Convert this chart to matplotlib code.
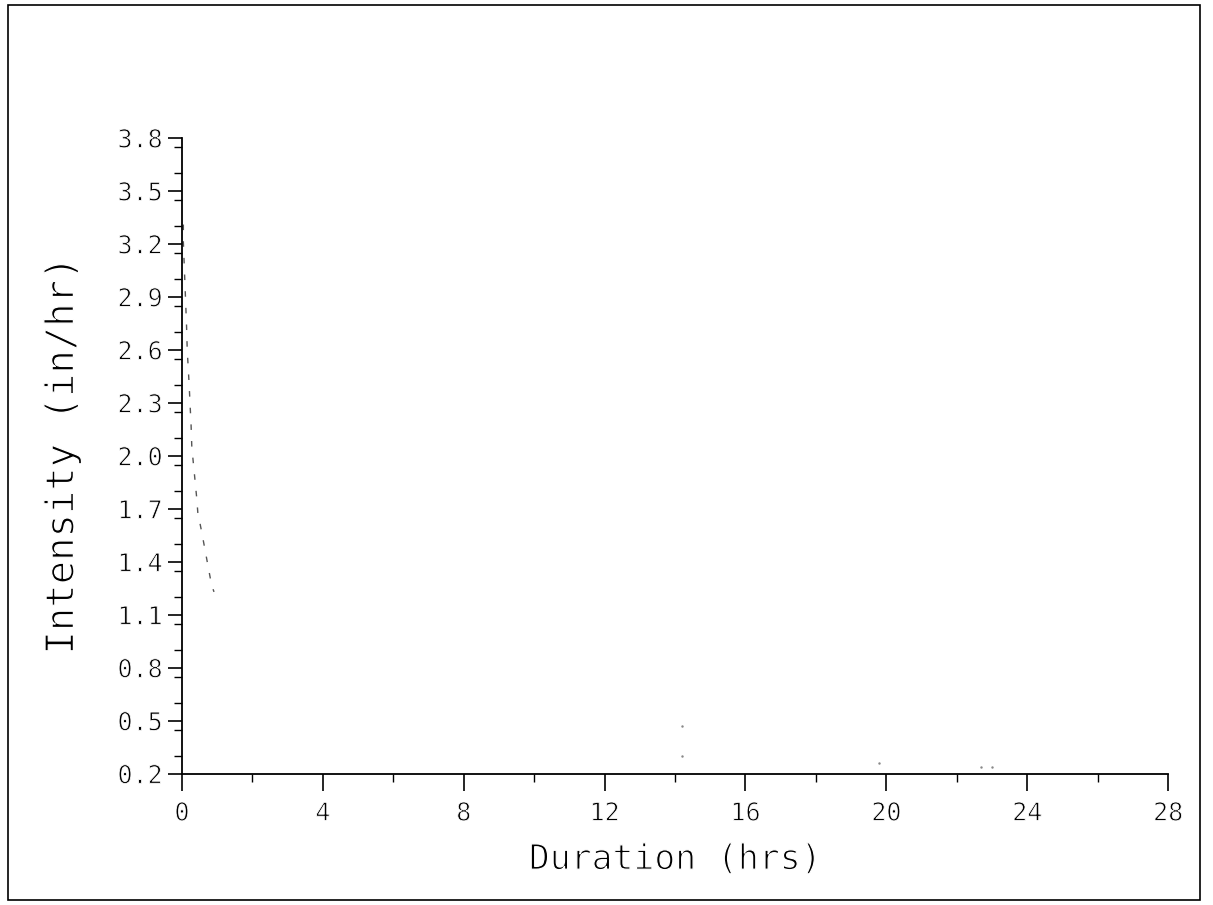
import numpy as np
import matplotlib
matplotlib.use('Agg')
import matplotlib.pyplot as plt
import matplotlib.ticker as mticker
import matplotlib.patheffects as pe
from matplotlib.patches import Rectangle

# faint intensity-duration curve
duration = [0.04, 0.04, 0.13, 0.15, 0.20, 0.26, 0.28, 0.42, 0.45, 0.56, 0.84, 0.91]
intensity = [3.31, 3.21, 2.74, 2.60, 2.42, 2.17, 2.05, 1.76, 1.68, 1.57, 1.27, 1.23]

# leftover specks of the curve near the bottom
speck_dur = [14.2, 14.2, 19.8, 22.7, 23.0]
speck_int = [0.47, 0.30, 0.26, 0.24, 0.24]

xticks = np.arange(0, 29, 4)
yticks = np.round(np.arange(0.2, 3.81, 0.3), 1)

plt.rcParams['font.family'] = ['DejaVu Sans Mono', 'DejaVu Sans']

# thin the glyph strokes a bit so they look like pen-plotter lettering
thin_small = [pe.Stroke(linewidth=0.6, foreground='white')]
thin_big = [pe.Stroke(linewidth=0.9, foreground='white')]

fig = plt.figure(figsize=(12.13, 9.05), dpi=100)
ax = fig.add_axes([0.150, 0.145, 0.813, 0.7025])

ax.plot(duration, intensity, color='#555555', lw=1.0, linestyle=(0, (4, 8)))
ax.plot(speck_dur, speck_int, linestyle='none', marker='.', ms=1.5, color='#888888')

ax.set_xlim(0, 28)
ax.set_ylim(0.2, 3.8)
ax.set_xticks(xticks)
ax.set_yticks(yticks)
ax.set_yticklabels(['%.1f' % v for v in yticks])
ax.xaxis.set_minor_locator(mticker.MultipleLocator(2))
ax.yaxis.set_minor_locator(mticker.MultipleLocator(0.15))

for s in ['top', 'right']:
    ax.spines[s].set_visible(False)
for s in ['left', 'bottom']:
    ax.spines[s].set_linewidth(1.3)
    ax.spines[s].set_color('black')

ax.tick_params(axis='both', which='major', direction='out', width=1.2,
               labelsize=18, colors='black')
ax.tick_params(axis='y', which='major', length=10, pad=4)
ax.tick_params(axis='x', which='major', length=12, pad=8)
ax.tick_params(axis='both', which='minor', direction='out', length=6, width=1.0)
for lab in ax.get_xticklabels() + ax.get_yticklabels():
    lab.set_path_effects(thin_small)

ax.set_xlabel('Duration (hrs)', fontsize=25, labelpad=12, color='black',
              path_effects=thin_big)
ax.set_ylabel('Intensity (in/hr)', fontsize=28, labelpad=26, color='black',
              path_effects=thin_big)

# page frame of the scan
fig.patches.append(Rectangle((0.007, 0.005), 0.982, 0.99, transform=fig.transFigure,
                             fill=False, edgecolor='black', lw=1.2))

fig.savefig('out.png', dpi=100)
